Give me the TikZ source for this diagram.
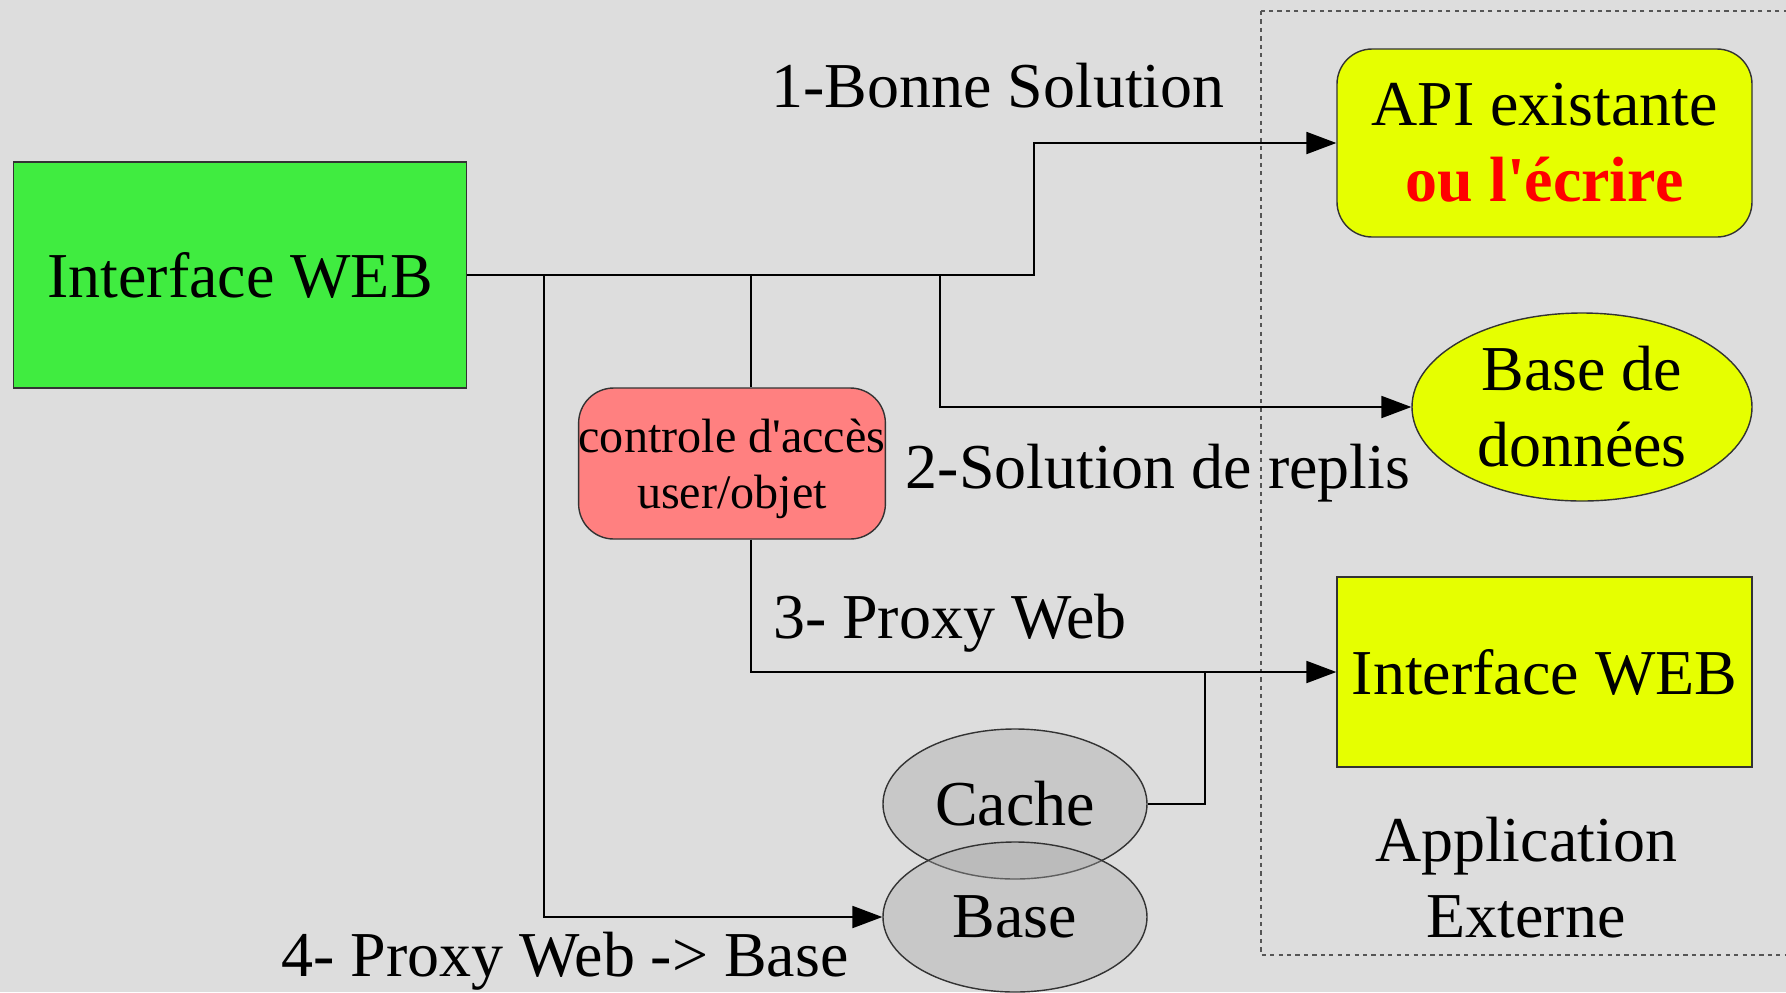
\documentclass[tikz,border=0pt]{standalone}
\usepackage{fontspec}
\setmainfont{Liberation Serif}[Ligatures=TeXOff]
\usetikzlibrary{positioning, shapes.geometric, arrows.meta, calc}
\definecolor{paper}{HTML}{DDDDDD}
\definecolor{webgreen}{HTML}{40EC40}
\definecolor{extyellow}{HTML}{E6FF00}
\definecolor{ctrlred}{HTML}{FF8080}
\definecolor{store}{HTML}{A6A6A6}
\definecolor{frame}{HTML}{555555}

\tikzset{
  box/.style={draw=black!80, line width=0.4pt, inner sep=0pt, align=center},
  roundbox/.style={box, rounded corners=10pt},
  oval/.style={box, ellipse},
  link/.style={line width=0.4pt, black},
  arr/.style={link, -{Triangle[length=8.5pt, width=6.3pt]}},
  small/.style={font=\fontsize{13.7pt}{16.2pt}\selectfont}
}

\begin{document}
\begin{tikzpicture}[font=\fontsize{18.2pt}{21.6pt}\selectfont]
  \fill[paper] (0,0) rectangle (17.86,-9.92);
  \useasboundingbox (0,0) rectangle (17.86,-9.92);

  % External application frame
  \draw[frame, line width=0.4pt, dash pattern=on 1.2pt off 1.2pt]
    (12.61,-0.11) rectangle (17.95,-9.55);

  % Nodes
  \node[box, fill=webgreen, minimum width=4.53cm, minimum height=2.26cm]
    (webL) at (2.40,-2.75) {Interface WEB};
  \node[roundbox, fill=extyellow, minimum width=4.15cm, minimum height=1.88cm]
    (api) at (15.445,-1.43) {API existante\\\textcolor{red}{\bfseries ou l'écrire}};
  \node[oval, fill=extyellow, minimum width=3.40cm, minimum height=1.88cm]
    (bdd) at (15.82,-4.07) {Base de\\données};
  \node[box, fill=extyellow, minimum width=4.15cm, minimum height=1.90cm]
    (webR) at (15.445,-6.72) {Interface WEB};
  \node[roundbox, small, fill=ctrlred, minimum width=3.0cm, minimum height=1.51cm]
    (ctrl) at (7.32,-4.635)
    {\raisebox{-1.6pt}[\height][\depth]{\begin{tabular}{@{}c@{}}controle d'accès\\user/objet\end{tabular}}};
  \node[oval, fill=store, fill opacity=0.38, text opacity=1,
        minimum width=2.64cm, minimum height=1.50cm]
    (cache) at (10.15,-8.04) {Cache};
  \node[oval, fill=store, fill opacity=0.38, text opacity=1,
        minimum width=2.64cm, minimum height=1.50cm]
    (base) at (10.15,-9.17) {Base};

  % Labels
  \node (lbl1) at (9.98,-0.86) {1-Bonne Solution};
  \node (lbl2) at (11.58,-4.73) {2-Solution de replis};
  \node (lbl3) at (9.50,-6.23) {3- Proxy Web};
  \node (lbl4) at (5.65,-9.61) {4- Proxy Web -> Base};
  \node[align=center] (lblext) at (15.26,-8.78) {Application\\Externe};

  % Branch points
  \coordinate (j1) at (10.34,-2.75);
  \coordinate (j2) at (9.40,-2.75);
  \coordinate (j3) at (7.51,-2.75);
  \coordinate (j4) at (5.44,-2.75);
  \coordinate (j5) at (12.05,-6.72);

  % Connectors
  \draw[arr] (webL.east) -- (j1) |- (api.west);
  \draw[arr] (j2) |- (bdd.west);
  \draw[link] (j3) -- (j3 |- ctrl.north);
  \draw[arr] (j3 |- ctrl.south) |- (webR.west);
  \draw[arr] (j4) |- (base.west);
  \draw[link] (cache.east) -| (j5);
\end{tikzpicture}
\end{document}
